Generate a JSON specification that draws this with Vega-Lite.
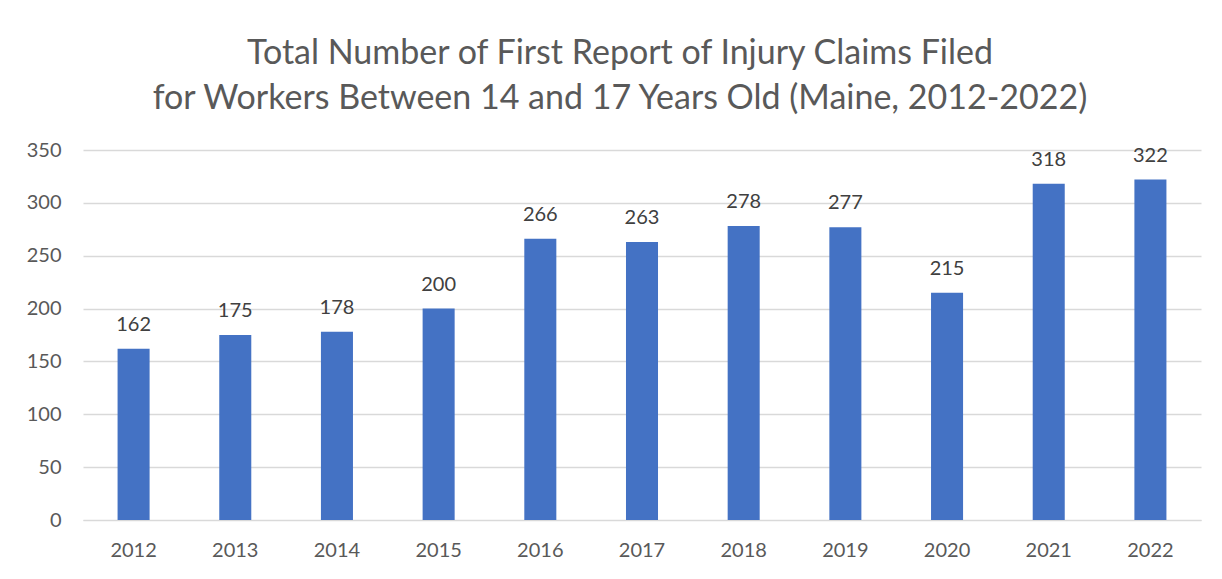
{
  "$schema": "https://vega.github.io/schema/vega-lite/v6.json",
  "autosize": {"type": "none"},
  "width": 1118,
  "height": 370,
  "padding": {"left": 83, "top": 150, "right": 21, "bottom": 59},
  "background": "white",
  "title": {
    "text": ["Total Number of First Report of Injury Claims Filed", "for Workers Between 14 and 17 Years Old (Maine, 2012-2022)"],
    "font": "Lato",
    "fontSize": 34,
    "fontWeight": "normal",
    "color": "#595959",
    "lineHeight": 45,
    "anchor": "middle",
    "dx": -22,
    "offset": 24
  },
  "data": {
    "values": [
      {"year": "2012", "claims": 162},
      {"year": "2013", "claims": 175},
      {"year": "2014", "claims": 178},
      {"year": "2015", "claims": 200},
      {"year": "2016", "claims": 266},
      {"year": "2017", "claims": 263},
      {"year": "2018", "claims": 278},
      {"year": "2019", "claims": 277},
      {"year": "2020", "claims": 215},
      {"year": "2021", "claims": 318},
      {"year": "2022", "claims": 322}
    ]
  },
  "encoding": {
    "x": {
      "field": "year", "type": "ordinal",
      "scale": {"paddingInner": 0.685, "paddingOuter": 0.34},
      "axis": {"title": null, "labelAngle": 0, "labelFont": "Lato", "labelFontSize": 20, "labelColor": "#595959", "labelPadding": 20, "ticks": false, "domainColor": "#d9d9d9"}
    },
    "y": {
      "field": "claims", "type": "quantitative",
      "scale": {"domain": [0, 350]},
      "axis": {"title": null, "values": [0, 50, 100, 150, 200, 250, 300, 350], "labelFont": "Lato", "labelFontSize": 20, "labelColor": "#595959", "labelPadding": 22, "ticks": false, "domain": false, "gridColor": "#d9d9d9", "gridWidth": 1.3}
    }
  },
  "layer": [
    {"mark": {"type": "bar", "color": "#4472C4"}},
    {
      "mark": {"type": "text", "baseline": "bottom", "dy": -14, "font": "Lato", "fontSize": 20, "color": "#404040"},
      "encoding": {"text": {"field": "claims", "type": "quantitative"}}
    }
  ],
  "config": {"view": {"stroke": null}}
}
